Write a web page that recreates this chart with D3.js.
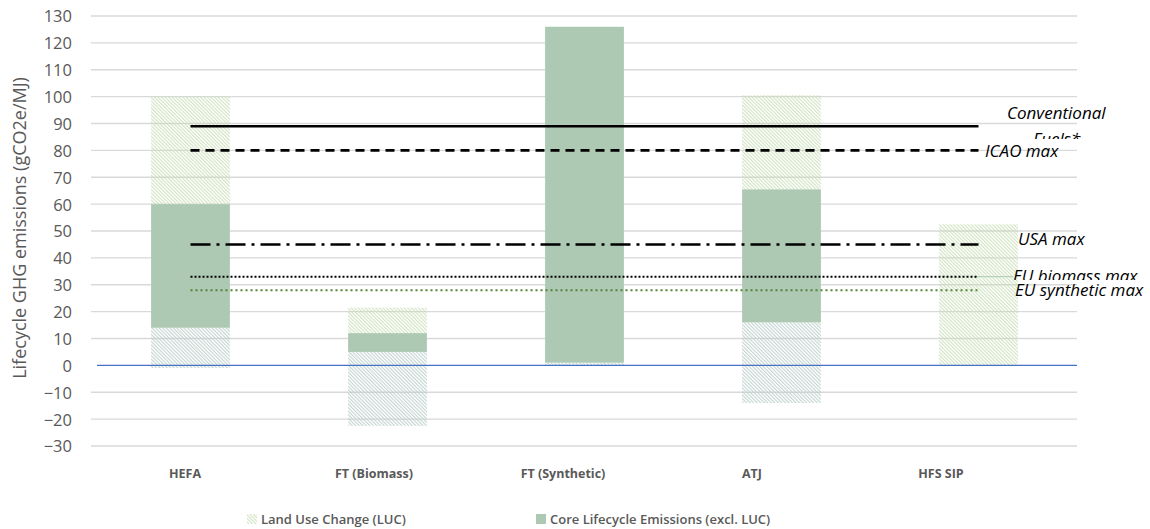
<!DOCTYPE html>
<html><head><meta charset="utf-8">
<script src="https://cdn.jsdelivr.net/npm/d3@7"></script>
<style>body{margin:0;background:#fff}svg{display:block}</style>
</head><body><svg id="c" width="1150" height="529"></svg>
<script>
const categories = ["HEFA", "FT (Biomass)", "FT (Synthetic)", "ATJ", "HFS SIP"];
const lucBottom = [-1, -22.5, 0, -14, 0];
const coreBottom = [14, 5, 1, 16, 0];
const coreTop = [60, 12, 126, 65.5, 0];
const lucTop = [100, 21.5, 126, 100.5, 52.5];
const thresholdNames = ["Conventional Fuels*", "ICAO max", "USA max", "EU biomass max", "EU synthetic max"];
const thresholdValues = [89, 80, 45, 33, 28];
const yTickValues = [-30, -20, -10, 0, 10, 20, 30, 40, 50, 60, 70, 80, 90, 100, 110, 120, 130];
const yTitle = "Lifecycle GHG emissions (gCO2e/MJ)";
const legendLabels = ["Land Use Change (LUC)", "Core Lifecycle Emissions (excl. LUC)"];

const svg = d3.select("#c");
const FONT = "'Open Sans', sans-serif";
const y = d3.scaleLinear().domain([-30, 130]).range([446, 16]);
const x = d3.scaleBand().domain(categories).range([92, 1077]).paddingInner(0.6).paddingOuter(0.3);
const xl = d3.scaleBand().domain(categories).range([90.5, 1035.5]);

const defs = svg.append("defs");
function hatch(id, color) {
  const p = defs.append("pattern").attr("id", id).attr("patternUnits", "userSpaceOnUse")
    .attr("width", 2.5).attr("height", 2.5).attr("patternTransform", "rotate(-45)");
  p.append("line").attr("x1", 0.6).attr("x2", 0.6).attr("y1", 0).attr("y2", 2.5)
    .attr("stroke", color).attr("stroke-width", 0.9);
}
hatch("hUp", "#c6ddb4");
hatch("hLow", "#b6cac6");

// gridlines
svg.append("g").selectAll("line").data(yTickValues.filter(v => v !== 0)).join("line")
  .attr("x1", 91).attr("x2", 1077).attr("y1", d => y(d)).attr("y2", d => y(d))
  .attr("stroke", "#d9d9d9").attr("stroke-width", 1.3);

// y axis labels
const yAxis = d3.axisLeft(y).tickValues(yTickValues).tickSize(0).tickPadding(0);
const ga = svg.append("g").attr("transform", "translate(72,0)").call(yAxis);
ga.select(".domain").remove();
ga.selectAll("text").attr("font-family", FONT).attr("font-size", 16.5).attr("fill", "#595959").attr("dy", "0.36em");

svg.append("text").attr("transform", "translate(26,228) rotate(-90)").attr("text-anchor", "middle")
  .attr("font-family", FONT).attr("font-size", 18).attr("fill", "#595959").text(yTitle);

// bars
const bars = svg.append("g");
const idx = d3.range(categories.length);
bars.selectAll(".low").data(idx).join("rect")
  .attr("x", i => x(categories[i])).attr("width", x.bandwidth())
  .attr("y", i => y(coreBottom[i])).attr("height", i => y(lucBottom[i]) - y(coreBottom[i]))
  .attr("fill", "url(#hLow)");
bars.selectAll(".up").data(idx).join("rect")
  .attr("x", i => x(categories[i])).attr("width", x.bandwidth())
  .attr("y", i => y(lucTop[i])).attr("height", i => y(coreTop[i]) - y(lucTop[i]))
  .attr("fill", "url(#hUp)");
bars.selectAll(".core").data(idx).join("rect")
  .attr("x", i => x(categories[i])).attr("width", x.bandwidth())
  .attr("y", i => y(coreTop[i])).attr("height", i => y(coreBottom[i]) - y(coreTop[i]))
  .attr("fill", "#adc9b4");

// zero axis
svg.append("line").attr("x1", 97).attr("x2", 1077).attr("y1", y(0)).attr("y2", y(0))
  .attr("stroke", "#4472c4").attr("stroke-width", 1.2);

// category labels
svg.append("g").selectAll("text").data(categories).join("text")
  .attr("x", d => xl(d) + xl.bandwidth() / 2).attr("y", 477.5).attr("text-anchor", "middle")
  .attr("font-family", FONT).attr("font-size", 12.5).attr("font-weight", 700).attr("fill", "#595959").text(d => d);

// threshold lines
const styles = [
  {dash: null, color: "#000", w: 2.6},
  {dash: "9,6", color: "#000", w: 2.6},
  {dash: "20,6,3,6", color: "#000", w: 2.6},
  {dash: "2,2", color: "#000", w: 2},
  {dash: "2,3", color: "#548235", w: 2}
];
const x0 = x(categories[0]) + x.bandwidth() / 2;
const x1 = x(categories[categories.length - 1]) + x.bandwidth() / 2;
svg.append("line").attr("x1", x1 - 3).attr("x2", 1013).attr("y1", y(thresholdValues[3])).attr("y2", y(thresholdValues[3]))
  .attr("stroke", "#a8cbb0").attr("stroke-width", 1);
const line = d3.line().x(d => d[0]).y(d => y(d[1]));
svg.append("g").selectAll("path").data(thresholdValues).join("path")
  .attr("d", (v) => line([[x0, v], [x1, v]]))
  .attr("fill", "none")
  .attr("stroke", (v, i) => styles[i].color)
  .attr("stroke-width", (v, i) => styles[i].w)
  .attr("stroke-dasharray", (v, i) => styles[i].dash);

// threshold labels
defs.append("clipPath").attr("id", "clipFuels").append("rect").attr("x", 900).attr("y", 100).attr("width", 250).attr("height", 39);
defs.append("clipPath").attr("id", "clipEU").append("rect").attr("x", 900).attr("y", 250).attr("width", 250).attr("height", 30);
const lab = svg.append("g").attr("font-family", FONT).attr("font-style", "italic").attr("font-size", 17).attr("fill", "#000");
const parts = thresholdNames[0].split(" ");
lab.append("text").attr("x", 1007).attr("y", 119).text(parts[0]);
lab.append("text").attr("x", 1033).attr("y", 145).attr("clip-path", "url(#clipFuels)").text(parts[1]);
lab.append("text").attr("x", 985).attr("y", 157).text(thresholdNames[1]);
lab.append("text").attr("x", 1018).attr("y", 245).text(thresholdNames[2]);
lab.append("text").attr("x", 1013).attr("y", 282).attr("clip-path", "url(#clipEU)").text(thresholdNames[3]);
lab.append("text").attr("x", 1015).attr("y", 296).text(thresholdNames[4]);

// legend
const lg = svg.append("g").attr("font-family", FONT).attr("font-size", 13).attr("font-weight", 600).attr("fill", "#595959");
lg.append("rect").attr("x", 247).attr("y", 514).attr("width", 10).attr("height", 10).attr("fill", "url(#hUp)");
lg.append("text").attr("x", 261).attr("y", 524).text(legendLabels[0]);
lg.append("rect").attr("x", 536).attr("y", 514).attr("width", 10).attr("height", 10).attr("fill", "#adc9b4");
lg.append("text").attr("x", 550).attr("y", 524).text(legendLabels[1]);
</script></body></html>
